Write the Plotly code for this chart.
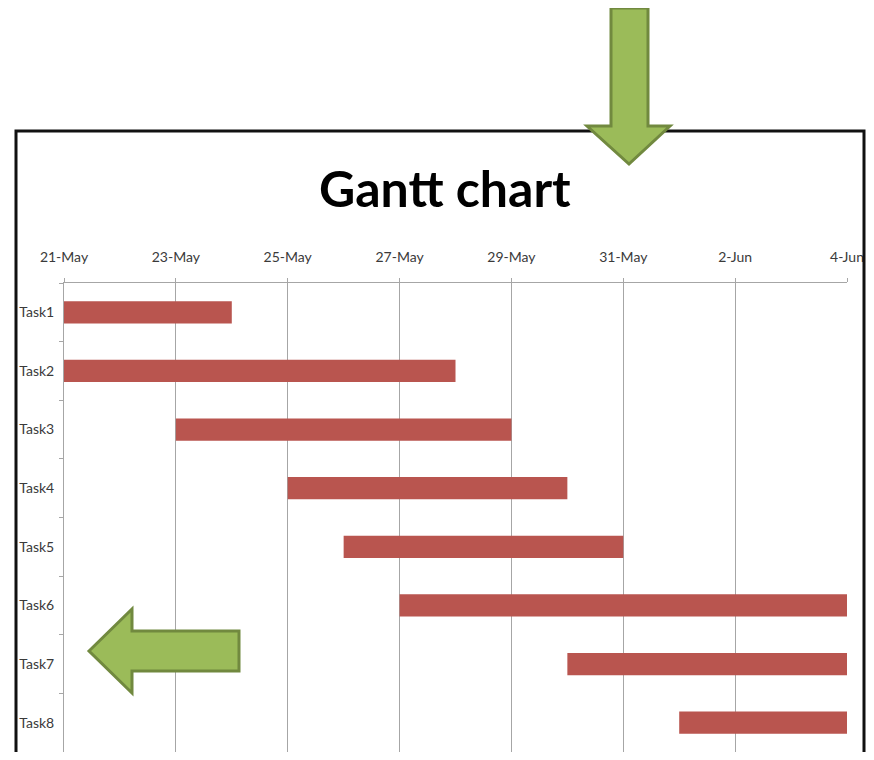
import plotly.graph_objects as go

tasks = ["Task1", "Task2", "Task3", "Task4", "Task5", "Task6", "Task7", "Task8"]
start_dates = ["2013-05-21", "2013-05-21", "2013-05-23", "2013-05-25",
               "2013-05-26", "2013-05-27", "2013-05-30", "2013-06-01"]
durations_days = [3, 7, 6, 5, 5, 8, 5, 3]
x_range = ["2013-05-21", "2013-06-04"]
title_text = "Gantt chart"

DAY_MS = 86400000
OFF = 8  # page body margin
W, H = 874 - 2 * OFF, 760 - 2 * OFF
# figure occupies page x 8..866, y 8..752
# plot area in reference (page) pixels: x 64..847, y 283..752
L, R, T, B = 64 - OFF, (OFF + W) - 847, 283 - OFF, (OFF + H) - 752
PW, PH = W - L - R, H - T - B

def px(x):
    return (x - OFF - L) / PW

def py(y):
    return (H - B - (y - OFF)) / PH

def path(points):
    return "M " + " L ".join(f"{px(x):.5f},{py(y):.5f}" for x, y in points) + " Z"

FONT = "Lato, Carlito, Calibri, Liberation Sans, sans-serif"
LABEL = "#3a3a3a"

fig = go.Figure()
fig.add_trace(go.Bar(
    y=tasks,
    x=[d * DAY_MS for d in durations_days],
    base=start_dates,
    orientation="h",
    marker=dict(color="#B9554F", line=dict(width=0)),
    width=0.38,
    hoverinfo="skip",
))

fig.update_layout(
    width=W, height=H,
    margin=dict(l=L, r=R, t=T, b=B, pad=0),
    paper_bgcolor="white", plot_bgcolor="white",
    showlegend=False,
    font=dict(family=FONT, size=14, color=LABEL),
    xaxis=dict(
        type="date", side="top", range=x_range,
        tick0=x_range[0], dtick=2 * DAY_MS, tickformat="%-d-%b",
        showgrid=True, gridcolor="#A6A6A6", gridwidth=1,
        showline=True, linecolor="#A6A6A6", linewidth=1,
        ticks="outside", ticklen=4, tickcolor="#A6A6A6",
        ticklabelstandoff=10,
        tickfont=dict(family=FONT, size=14, color=LABEL),
        zeroline=False,
    ),
    yaxis=dict(
        type="category", autorange="reversed",
        showgrid=False, showline=True, linecolor="#A6A6A6", linewidth=1,
        ticks="outside", ticklen=4, tickcolor="#A6A6A6",
        tickson="boundaries", ticklabelstandoff=6,
        tickfont=dict(family=FONT, size=14, color=LABEL),
        zeroline=False,
    ),
)

shapes = []
# black frame
shapes.append(dict(type="rect", xref="paper", yref="paper",
                   x0=px(16), x1=px(864), y0=py(131), y1=py(775),
                   line=dict(color="#111111", width=3), fillcolor="rgba(0,0,0,0)",
                   layer="above"))
# down arrow
down = [(611, 8), (648, 8), (648, 126), (670, 126), (629, 164), (587, 126), (611, 126)]
shapes.append(dict(type="path", xref="paper", yref="paper", path=path(down),
                   fillcolor="#9BBB59", line=dict(color="#71893F", width=3), layer="above"))
# left arrow
left = [(89, 651), (132, 609), (132, 631), (239, 631), (239, 671), (132, 671), (132, 693)]
shapes.append(dict(type="path", xref="paper", yref="paper", path=path(left),
                   fillcolor="#9BBB59", line=dict(color="#71893F", width=3), layer="above"))
fig.update_layout(shapes=shapes)

fig.add_annotation(
    text=f"<b>{title_text}</b>", xref="paper", yref="paper",
    x=px(445), y=py(188), xanchor="center", yanchor="middle",
    showarrow=False, font=dict(family=FONT, size=50, color="#000000"),
)

fig.write_html("out.html")
